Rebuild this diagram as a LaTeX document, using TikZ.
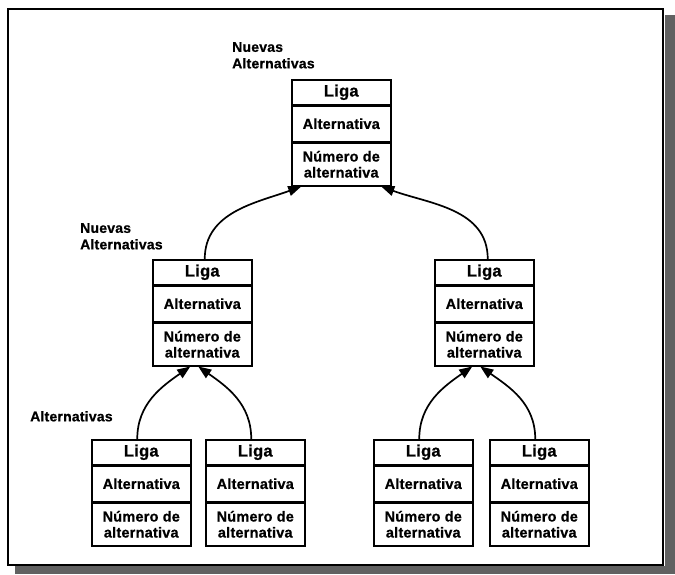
\documentclass[tikz,border=0pt]{standalone}
\usepackage{fontspec}
\setmainfont{Liberation Sans}
\newfontfamily\diagfont[LetterSpace=1.5, FakeBold=0.8]{Liberation Sans}
\usetikzlibrary{arrows.meta}

\tikzset{
  cell/.style={draw, line width=1.5pt, minimum width=99pt, inner sep=0pt,
    align=center, font=\diagfont\bfseries\fontsize{14.5}{16}\selectfont},
  ligacell/.style={cell, minimum height=25pt,
    font=\diagfont\bfseries\fontsize{16.5}{18}\selectfont},
  altcell/.style={cell, minimum height=35pt},
  numcell/.style={cell, minimum height=43pt},
  link/.style={line width=1.7pt, -{Triangle[length=13pt,width=10pt]}},
  caption/.style={anchor=north west, inner sep=0pt, align=left,
    font=\diagfont\bfseries\fontsize{14}{16.5}\selectfont},
  frame/.style={draw, line width=2.2pt},
  shadow/.style={fill=black!62, draw=none}
}

% one record: name, left edge, top edge
\newcommand\ligastack[3]{%
  \node[ligacell, anchor=north west] (#1-l) at (#2,-#3) {Liga};
  \node[altcell, anchor=north] (#1-a) at (#1-l.south) {Alternativa};
  \node[numcell, anchor=north] (#1-n) at (#1-a.south) {Número de\\alternativa};
}

\begin{document}
\begin{tikzpicture}[x=1pt, y=1pt]
  \useasboundingbox (0,0) rectangle (675,-574);

  % outer frame with its drop shadow
  \fill[shadow] (665,-15) rectangle (675,-574);
  \fill[shadow] (15,-566) rectangle (675,-574);
  \draw[frame] (8,-9) rectangle (663,-565);

  % records
  \ligastack{T}{291}{79}
  \ligastack{ML}{152}{259}
  \ligastack{MR}{434}{259}
  \ligastack{B1}{91}{439}
  \ligastack{B2}{205}{439}
  \ligastack{B3}{373}{439}
  \ligastack{B4}{489}{439}

  % captions
  \node[caption] (capT) at (232,-42) {Nuevas\\Alternativas};
  \node[caption] (capM) at (80,-223) {Nuevas\\Alternativas};
  \node[caption] (capB) at (30,-411) {Alternativas};

  % links between records
  \draw[link] ([xshift=2.5pt]ML-l.north) to[out=90, in=200] ([xshift=-40pt]T-n.south);
  \draw[link] ([xshift=3.5pt]MR-l.north) to[out=90, in=-20] ([xshift=40pt]T-n.south);

  \draw[link] ([xshift=-4pt]B1-l.north) to[out=90, in=215] ([xshift=-12pt]ML-n.south);
  \draw[link] ([xshift=-4pt]B2-l.north) to[out=90, in=-35] ([xshift=-4pt]ML-n.south);
  \draw[link] ([xshift=-4pt]B3-l.north) to[out=90, in=215] ([xshift=-12pt]MR-n.south);
  \draw[link] ([xshift=-4pt]B4-l.north) to[out=90, in=-35] ([xshift=-4pt]MR-n.south);
\end{tikzpicture}
\end{document}
